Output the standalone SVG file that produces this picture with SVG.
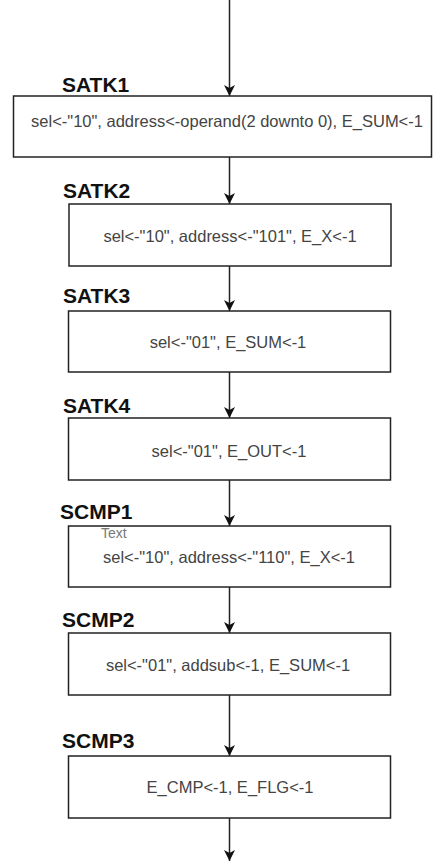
<svg xmlns="http://www.w3.org/2000/svg" width="437" height="862" viewBox="0 0 437 862">
<style>
.box{fill:#fff;stroke:#222;stroke-width:1.5}
.lbl{font-family:"Liberation Sans",Arial,sans-serif;font-weight:bold;font-size:21px;fill:#111}
.txt{font-family:"Liberation Sans",Arial,sans-serif;font-size:16.5px;fill:#444;text-anchor:middle}
.sm{font-family:"Liberation Sans",Arial,sans-serif;font-size:14px;fill:#777}
.edge{stroke:#222;stroke-width:1.5;fill:none;marker-end:url(#arr)}
</style>
<defs>
<marker id="arr" markerUnits="userSpaceOnUse" markerWidth="12" markerHeight="12" viewBox="0 0 12 12" refX="11" refY="6" orient="auto">
<path d="M0,0.5 L11,6 L0,11.5 L3,6 Z" fill="#111"/>
</marker>
</defs>
<rect width="437" height="862" fill="#fff"/>
<g id="connectors">
<line class="edge" x1="229.5" y1="0" x2="229.5" y2="96"/>
<line class="edge" x1="229.5" y1="157" x2="229.5" y2="204"/>
<line class="edge" x1="229.5" y1="266" x2="229.5" y2="311"/>
<line class="edge" x1="229.5" y1="372" x2="229.5" y2="418"/>
<line class="edge" x1="229.5" y1="480" x2="229.5" y2="526"/>
<line class="edge" x1="229.5" y1="587" x2="229.5" y2="633"/>
<line class="edge" x1="229.5" y1="695" x2="229.5" y2="756"/>
<line class="edge" x1="229.5" y1="818" x2="229.5" y2="861"/>
</g>
<g id="SATK1">
<text class="lbl" x="62" y="92">SATK1</text>
<rect class="box" x="13.5" y="96" width="418" height="61"/>
<text class="txt" x="227" y="127">sel&lt;-"10", address&lt;-operand(2 downto 0), E_SUM&lt;-1</text>
</g>
<g id="SATK2">
<text class="lbl" x="63" y="198">SATK2</text>
<rect class="box" x="69" y="204" width="322" height="62"/>
<text class="txt" x="230" y="242">sel&lt;-"10", address&lt;-"101", E_X&lt;-1</text>
</g>
<g id="SATK3">
<text class="lbl" x="63" y="303">SATK3</text>
<rect class="box" x="68.5" y="311" width="322" height="61"/>
<text class="txt" x="228" y="348">sel&lt;-"01", E_SUM&lt;-1</text>
</g>
<g id="SATK4">
<text class="lbl" x="63" y="413">SATK4</text>
<rect class="box" x="68.5" y="418" width="322" height="62"/>
<text class="txt" x="229" y="457">sel&lt;-"01", E_OUT&lt;-1</text>
</g>
<g id="SCMP1">
<text class="lbl" x="60" y="519">SCMP1</text>
<rect class="box" x="68.5" y="526" width="322" height="61"/>
<text class="sm" x="101" y="538">Text</text>
<text class="txt" x="229" y="563">sel&lt;-"10", address&lt;-"110", E_X&lt;-1</text>
</g>
<g id="SCMP2">
<text class="lbl" x="62" y="627">SCMP2</text>
<rect class="box" x="68.5" y="633" width="322" height="62"/>
<text class="txt" x="228" y="671">sel&lt;-"01", addsub&lt;-1, E_SUM&lt;-1</text>
</g>
<g id="SCMP3">
<text class="lbl" x="62" y="748">SCMP3</text>
<rect class="box" x="68.5" y="756" width="322" height="62"/>
<text class="txt" x="230" y="793">E_CMP&lt;-1, E_FLG&lt;-1</text>
</g>
</svg>
